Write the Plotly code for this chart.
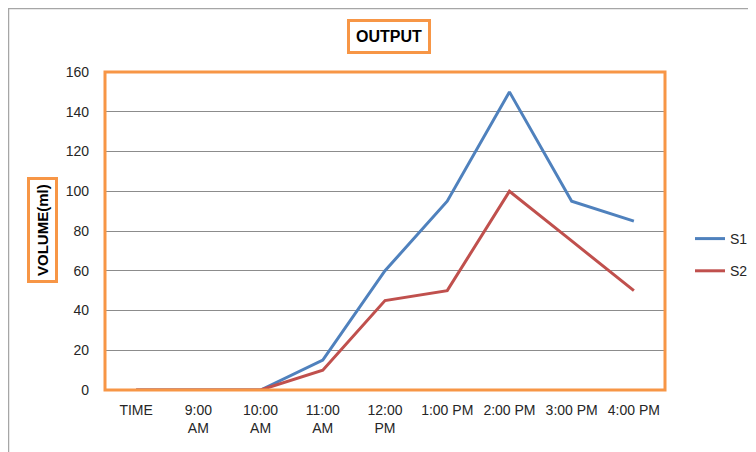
import plotly.graph_objects as go

categories = ["TIME", "9:00<br>AM", "10:00<br>AM", "11:00<br>AM", "12:00<br>PM",
              "1:00 PM", "2:00 PM", "3:00 PM", "4:00 PM"]
s1 = [0, 0, 0, 15, 60, 95, 150, 95, 85]
s2 = [0, 0, 0, 10, 45, 50, 100, 75, 50]

# page body has an 8px margin; figure origin sits at (8, 8) of the window
OFF = 8
W, H = 756 - OFF, 452 - OFF
L, R, T, B = 105 - OFF, 665 - OFF, 72 - OFF, 390 - OFF

def px(x):
    return (x - OFF - L) / (R - L)

def py(y):
    return (B - (y - OFF)) / (B - T)

fig = go.Figure()
fig.add_trace(go.Scatter(x=categories, y=s1, name="S1", mode="lines",
                         line=dict(color="#4F81BD", width=3), legendgroup="a"))
fig.add_trace(go.Scatter(x=categories, y=s2, name="S2", mode="lines",
                         line=dict(color="#C0504D", width=3), legendgroup="b"))

orange = "#F79646"
fig.update_layout(
    width=W, height=H,
    margin=dict(l=L, r=W - R, t=T, b=H - B, autoexpand=False),
    paper_bgcolor="white", plot_bgcolor="white",
    font=dict(family="Liberation Sans, Arial, sans-serif", size=14, color="#262626"),
    showlegend=True,
    legend=dict(x=px(690), y=py(223), xanchor="left", yanchor="top",
                tracegroupgap=11, font=dict(size=14), bgcolor="rgba(0,0,0,0)"),
    xaxis=dict(type="category", showgrid=False, zeroline=False, showline=False,
               ticks="", tickangle=0, range=[-0.5, 8.5], ticklabelstandoff=10),
    yaxis=dict(range=[0, 160], dtick=20, showgrid=True, gridcolor="#8c8c8c", gridwidth=1,
               zeroline=False, showline=False, ticks="", ticklabelstandoff=15),
    shapes=[
        dict(type="rect", xref="paper", yref="paper", x0=0, x1=1, y0=0, y1=1,
             line=dict(color=orange, width=3)),
        dict(type="line", xref="paper", yref="paper", x0=px(8), x1=px(756), y0=py(8.5), y1=py(8.5),
             line=dict(color="#a6a6a6", width=1.5)),
        dict(type="line", xref="paper", yref="paper", x0=px(8.5), x1=px(8.5), y0=py(8), y1=py(452),
             line=dict(color="#a6a6a6", width=1.5)),
    ],
    annotations=[
        dict(text="<b>OUTPUT</b>", xref="paper", yref="paper", x=px(389), y=py(36),
             xanchor="center", yanchor="middle", showarrow=False,
             font=dict(size=16, color="black"), bordercolor=orange, borderwidth=3,
             borderpad=6, bgcolor="white"),
        dict(text="<b>VOLUME(ml)</b>", xref="paper", yref="paper", x=px(42), y=py(230),
             xanchor="center", yanchor="middle", showarrow=False, textangle=-90,
             font=dict(size=15, color="black"), bordercolor=orange, borderwidth=3,
             borderpad=4, bgcolor="white"),
    ],
)

fig.write_html("out.html")
